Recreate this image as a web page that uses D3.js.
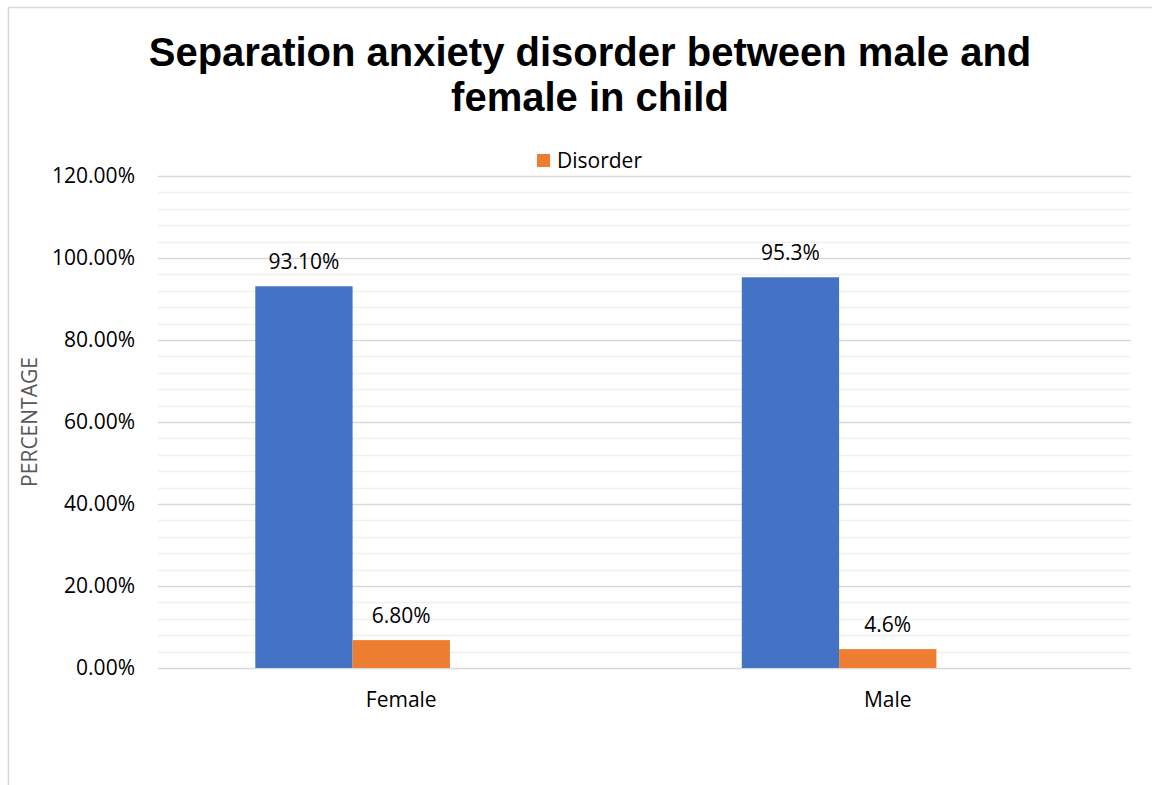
<!DOCTYPE html>
<html>
<head>
<meta charset="utf-8">
<script src="https://cdn.jsdelivr.net/npm/d3@7"></script>
<style>
  html, body { margin: 0; padding: 0; background: #fff; }
  svg { display: block; }
</style>
</head>
<body>
<div id="chart"></div>
<script>
// Category labels and series values (percent)
const categories = ["Female", "Male"];
const seriesNames = ["", "Disorder"];
const noDisorder = [93.1, 95.3];
const disorder = [6.8, 4.6];
const noDisorderLabels = ["93.10%", "95.3%"];
const disorderLabels = ["6.80%", "4.6%"];
const yTicks = [0, 20, 40, 60, 80, 100, 120];
const yMinorTicks = d3.range(0, 121, 4);
const seriesColors = ["#4472C4", "#ED7D31"];
// three series slots per category; the third slot has no data
const seriesSlots = [0, 1, 2];

const W = 1152, H = 785;
const margin = { top: 176, right: 21, bottom: 117, left: 158 };
const innerW = W - margin.left - margin.right;
const innerH = H - margin.top - margin.bottom;
const FONT = "'Open Sans', 'Noto Sans', sans-serif";
const FS = 21;

const svg = d3.select("#chart").append("svg")
  .attr("width", W).attr("height", H);

// chart frame
svg.append("rect")
  .attr("x", 8.5).attr("y", 7.5)
  .attr("width", W + 10).attr("height", H + 10)
  .attr("fill", "#fff").attr("stroke", "#d9d9d9").attr("stroke-width", 1.5);

// title
const title = svg.append("text")
  .attr("text-anchor", "middle")
  .attr("font-family", "'Liberation Sans', Arial, sans-serif")
  .attr("font-weight", "bold")
  .attr("font-size", 40)
  .attr("fill", "#000");
title.append("tspan").attr("x", 590).attr("y", 66).text("Separation anxiety disorder between male and");
title.append("tspan").attr("x", 590).attr("y", 111).text("female in child");

const g = svg.append("g").attr("transform", `translate(${margin.left},${margin.top})`);

const y = d3.scaleLinear().domain([0, 120]).range([innerH, 0]);
const x0 = d3.scaleBand().domain(categories).range([0, innerW]).paddingInner(0).paddingOuter(0);
const x1 = d3.scaleBand().domain(seriesSlots)
  .range([x0.bandwidth() * 0.2, x0.bandwidth() * 0.8]).padding(0);

// minor gridlines
g.append("g").selectAll("line")
  .data(yMinorTicks.filter(t => t % 20 !== 0))
  .join("line")
  .attr("x1", 0).attr("x2", innerW)
  .attr("y1", d => Math.round(y(d)) + 0.5).attr("y2", d => Math.round(y(d)) + 0.5)
  .attr("stroke", "#f0f0f0").attr("stroke-width", 1.5);

// major gridlines
g.append("g").selectAll("line")
  .data(yTicks)
  .join("line")
  .attr("x1", 0).attr("x2", innerW)
  .attr("y1", d => Math.round(y(d)) + 0.5).attr("y2", d => Math.round(y(d)) + 0.5)
  .attr("stroke", "#d9d9d9").attr("stroke-width", 1.5);

// y axis tick labels
const yAxis = d3.axisLeft(y).tickValues(yTicks)
  .tickFormat(d => d.toFixed(2) + "%").tickSize(0).tickPadding(23);
g.append("g").call(yAxis)
  .call(a => a.select(".domain").remove())
  .selectAll("text")
  .attr("font-family", FONT)
  .attr("font-size", FS)
  .attr("fill", "#000");

// x axis labels
const xAxis = d3.axisBottom(x0).tickSize(0).tickPadding(24);
g.append("g").attr("transform", `translate(0,${innerH})`).call(xAxis)
  .call(a => a.select(".domain").remove())
  .selectAll("text")
  .attr("font-family", FONT)
  .attr("font-size", FS)
  .attr("fill", "#000");

// y axis title
svg.append("text")
  .attr("transform", `translate(37,${margin.top + innerH / 2}) rotate(-90)`)
  .attr("text-anchor", "middle")
  .attr("font-family", FONT)
  .attr("font-size", FS)
  .attr("fill", "#595959")
  .text("PERCENTAGE");

// bars
const rows = categories.map((c, i) => ({
  cat: c,
  vals: [
    { s: 0, v: noDisorder[i], label: noDisorderLabels[i] },
    { s: 1, v: disorder[i], label: disorderLabels[i] }
  ]
}));

const groups = g.selectAll(".grp").data(rows).join("g")
  .attr("class", "grp")
  .attr("transform", d => `translate(${x0(d.cat)},0)`);

groups.selectAll("rect").data(d => d.vals).join("rect")
  .attr("x", d => x1(d.s))
  .attr("width", x1.bandwidth())
  .attr("y", d => y(d.v))
  .attr("height", d => innerH - y(d.v))
  .attr("fill", d => seriesColors[d.s]);

groups.selectAll("text.lbl").data(d => d.vals).join("text")
  .attr("class", "lbl")
  .attr("x", d => x1(d.s) + x1.bandwidth() / 2)
  .attr("y", d => y(d.v) - 17)
  .attr("text-anchor", "middle")
  .attr("font-family", FONT)
  .attr("font-size", FS)
  .attr("fill", "#000")
  .text(d => d.label);

// legend
const legend = svg.append("g").attr("transform", "translate(537,154)");
legend.append("rect").attr("width", 13).attr("height", 13).attr("fill", seriesColors[1]);
legend.append("text").attr("x", 20).attr("y", 14)
  .attr("font-family", FONT)
  .attr("font-size", FS).attr("fill", "#000")
  .text(seriesNames[1]);
</script>
</body>
</html>
